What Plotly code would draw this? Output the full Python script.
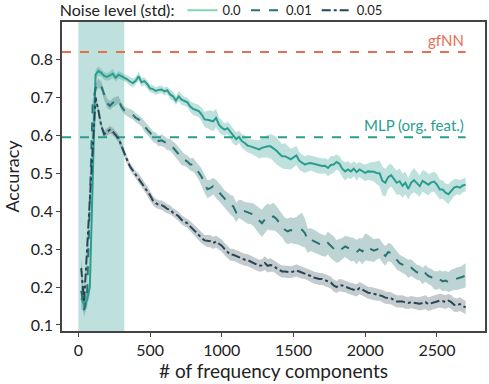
import numpy as np
import plotly.graph_objects as go

# %%============== Data ==============================
n_freq = np.arange(20, 2701, 20)  # number of frequency components

noise_levels = ["0.0", "0.01", "0.05"]

acc_00 = [0.17, 0.155, 0.165, 0.20, 0.48, 0.76, 0.77, 0.765, 0.757, 0.754,
          0.758, 0.763, 0.752, 0.760, 0.756, 0.753, 0.748, 0.742, 0.738, 0.744,
          0.756, 0.740, 0.743, 0.735, 0.724, 0.722, 0.717, 0.720, 0.721, 0.716,
          0.719, 0.708, 0.703, 0.692, 0.703, 0.694, 0.690, 0.687, 0.676, 0.670,
          0.667, 0.664, 0.655, 0.642, 0.641, 0.640, 0.637, 0.646, 0.628, 0.620,
          0.615, 0.619, 0.610, 0.598, 0.590, 0.596, 0.585, 0.580, 0.573, 0.571,
          0.569, 0.566, 0.563, 0.567, 0.570, 0.571, 0.571, 0.566, 0.560, 0.552,
          0.545, 0.545, 0.541, 0.537, 0.542, 0.547, 0.533, 0.527, 0.523, 0.526,
          0.527, 0.525, 0.523, 0.521, 0.519, 0.520, 0.514, 0.522, 0.523, 0.530,
          0.525, 0.512, 0.505, 0.510, 0.505, 0.512, 0.503, 0.510, 0.505, 0.501,
          0.505, 0.505, 0.504, 0.501, 0.500, 0.480, 0.475, 0.490, 0.495, 0.485,
          0.475, 0.479, 0.467, 0.475, 0.459, 0.475, 0.482, 0.474, 0.466, 0.480,
          0.476, 0.470, 0.476, 0.478, 0.470, 0.457, 0.457, 0.449, 0.445, 0.455,
          0.462, 0.465, 0.462, 0.468, 0.470]

acc_001 = [0.19, 0.14, 0.17, 0.40, 0.68, 0.725, 0.738, 0.730, 0.705, 0.685,
           0.678, 0.686, 0.690, 0.694, 0.676, 0.666, 0.662, 0.658, 0.654, 0.646,
           0.642, 0.635, 0.624, 0.615, 0.607, 0.597, 0.593, 0.585, 0.587, 0.583,
           0.576, 0.576, 0.568, 0.560, 0.550, 0.540, 0.535, 0.531, 0.523, 0.523,
           0.513, 0.503, 0.490, 0.472, 0.458, 0.461, 0.466, 0.459, 0.451, 0.443,
           0.433, 0.424, 0.417, 0.413, 0.397, 0.406, 0.403, 0.398, 0.395, 0.394,
           0.391, 0.383, 0.375, 0.368, 0.378, 0.386, 0.383, 0.386, 0.380, 0.371,
           0.363, 0.351, 0.347, 0.350, 0.348, 0.349, 0.351, 0.351, 0.342, 0.322,
           0.325, 0.322, 0.318, 0.314, 0.310, 0.308, 0.316, 0.308, 0.302, 0.294,
           0.296, 0.301, 0.307, 0.303, 0.299, 0.299, 0.292, 0.299, 0.294, 0.306,
           0.304, 0.300, 0.296, 0.300, 0.302, 0.290, 0.282, 0.292, 0.290, 0.280,
           0.270, 0.263, 0.259, 0.255, 0.248, 0.251, 0.245, 0.239, 0.237, 0.229,
           0.236, 0.229, 0.226, 0.218, 0.217, 0.220, 0.215, 0.217, 0.213, 0.218,
           0.220, 0.222, 0.223, 0.227, 0.231]

acc_005 = [0.25, 0.16, 0.295, 0.43, 0.565, 0.700, 0.665, 0.625, 0.603, 0.608,
           0.615, 0.610, 0.600, 0.592, 0.573, 0.552, 0.535, 0.518, 0.507, 0.496,
           0.488, 0.477, 0.465, 0.453, 0.442, 0.428, 0.421, 0.417, 0.416, 0.412,
           0.406, 0.404, 0.396, 0.392, 0.386, 0.377, 0.372, 0.368, 0.360, 0.352,
           0.345, 0.337, 0.329, 0.323, 0.321, 0.321, 0.316, 0.320, 0.314, 0.309,
           0.300, 0.292, 0.285, 0.285, 0.282, 0.278, 0.274, 0.272, 0.271, 0.268,
           0.263, 0.260, 0.256, 0.257, 0.263, 0.256, 0.258, 0.256, 0.250, 0.245,
           0.241, 0.241, 0.239, 0.239, 0.241, 0.244, 0.241, 0.238, 0.237, 0.233,
           0.229, 0.225, 0.222, 0.221, 0.221, 0.219, 0.215, 0.212, 0.204, 0.200,
           0.205, 0.204, 0.202, 0.198, 0.195, 0.193, 0.191, 0.197, 0.193, 0.190,
           0.185, 0.184, 0.182, 0.180, 0.180, 0.176, 0.172, 0.171, 0.170, 0.166,
           0.162, 0.162, 0.162, 0.159, 0.158, 0.160, 0.158, 0.157, 0.156, 0.158,
           0.160, 0.155, 0.158, 0.160, 0.162, 0.164, 0.163, 0.160, 0.164, 0.160,
           0.153, 0.152, 0.155, 0.150, 0.146]

std_00 = [0.03, 0.02, 0.02, 0.02, 0.02, 0.012, 0.012, 0.01, 0.01, 0.01,
          0.012, 0.012, 0.01, 0.01, 0.01, 0.01, 0.01, 0.012, 0.012, 0.01,
          0.012, 0.012, 0.01, 0.01, 0.01, 0.01, 0.01, 0.01, 0.01, 0.01,
          0.01, 0.012, 0.012, 0.012, 0.014, 0.014, 0.012, 0.012, 0.014, 0.016,
          0.016, 0.016, 0.018, 0.02, 0.024, 0.026, 0.026, 0.024, 0.02, 0.018,
          0.016, 0.016, 0.018, 0.02, 0.018, 0.016, 0.018, 0.02, 0.018, 0.018,
          0.02, 0.022, 0.024, 0.026, 0.028, 0.03, 0.032, 0.034, 0.036, 0.034,
          0.032, 0.034, 0.03, 0.028, 0.026, 0.025, 0.024, 0.022, 0.022, 0.022,
          0.02, 0.02, 0.022, 0.022, 0.02, 0.02, 0.022, 0.024, 0.022, 0.02,
          0.02, 0.022, 0.024, 0.022, 0.02, 0.02, 0.022, 0.02, 0.02, 0.022,
          0.022, 0.024, 0.026, 0.03, 0.034, 0.038, 0.036, 0.032, 0.03, 0.03,
          0.032, 0.034, 0.032, 0.03, 0.028, 0.03, 0.032, 0.03, 0.028, 0.028,
          0.03, 0.028, 0.026, 0.026, 0.028, 0.026, 0.024, 0.024, 0.026, 0.024,
          0.022, 0.02, 0.02, 0.018, 0.018]

std_001 = [0.02, 0.02, 0.02, 0.02, 0.015, 0.012, 0.012, 0.012, 0.012, 0.012,
           0.012, 0.012, 0.012, 0.01, 0.01, 0.01, 0.01, 0.012, 0.012, 0.012,
           0.012, 0.012, 0.014, 0.014, 0.014, 0.014, 0.014, 0.014, 0.015, 0.015,
           0.015, 0.016, 0.016, 0.018, 0.018, 0.018, 0.016, 0.016, 0.016, 0.018,
           0.018, 0.02, 0.022, 0.024, 0.024, 0.022, 0.022, 0.024, 0.024, 0.022,
           0.022, 0.024, 0.026, 0.028, 0.026, 0.024, 0.026, 0.026, 0.028, 0.028,
           0.03, 0.032, 0.034, 0.036, 0.036, 0.034, 0.034, 0.036, 0.034, 0.032,
           0.032, 0.032, 0.034, 0.034, 0.034, 0.036, 0.04, 0.045, 0.038, 0.032,
           0.03, 0.03, 0.03, 0.028, 0.028, 0.028, 0.03, 0.032, 0.032, 0.03,
           0.03, 0.028, 0.028, 0.03, 0.032, 0.03, 0.032, 0.03, 0.034, 0.036,
           0.034, 0.032, 0.03, 0.028, 0.026, 0.026, 0.026, 0.024, 0.024, 0.024,
           0.024, 0.022, 0.022, 0.022, 0.024, 0.022, 0.022, 0.02, 0.02, 0.022,
           0.022, 0.022, 0.022, 0.024, 0.024, 0.024, 0.026, 0.026, 0.026, 0.028,
           0.028, 0.03, 0.03, 0.03, 0.032]

std_005 = [0.03, 0.025, 0.02, 0.015, 0.012, 0.01, 0.01, 0.01, 0.01, 0.01,
           0.01, 0.01, 0.01, 0.01, 0.01, 0.01, 0.01, 0.01, 0.01, 0.01,
           0.012, 0.012, 0.012, 0.012, 0.012, 0.012, 0.012, 0.012, 0.012, 0.012,
           0.012, 0.012, 0.012, 0.012, 0.012, 0.012, 0.012, 0.012, 0.014, 0.014,
           0.014, 0.014, 0.014, 0.014, 0.016, 0.016, 0.016, 0.016, 0.016, 0.016,
           0.016, 0.016, 0.016, 0.016, 0.016, 0.016, 0.016, 0.016, 0.016, 0.016,
           0.016, 0.016, 0.016, 0.016, 0.018, 0.018, 0.018, 0.016, 0.016, 0.016,
           0.016, 0.016, 0.016, 0.016, 0.016, 0.016, 0.016, 0.016, 0.016, 0.016,
           0.016, 0.016, 0.016, 0.016, 0.016, 0.016, 0.016, 0.016, 0.016, 0.016,
           0.016, 0.016, 0.016, 0.016, 0.016, 0.016, 0.016, 0.016, 0.016, 0.016,
           0.016, 0.016, 0.016, 0.016, 0.016, 0.016, 0.016, 0.016, 0.016, 0.016,
           0.016, 0.016, 0.016, 0.016, 0.016, 0.016, 0.016, 0.016, 0.018, 0.018,
           0.018, 0.018, 0.018, 0.018, 0.018, 0.018, 0.018, 0.018, 0.018, 0.018,
           0.018, 0.018, 0.018, 0.018, 0.018]

gfnn_acc = 0.82
mlp_acc = 0.595
span_lo, span_hi = 0, 320

# %%============== Styling =========
line_colors = ["#2a9d8f", "#287271", "#264653"]
legend_colors = ["#86d3ae", "#287271", "#264653"]
band_colors = ["rgba(42,157,143,0.3)", "rgba(40,114,113,0.3)", "rgba(38,70,83,0.28)"]
dashes = ["solid", "dash", "dashdot"]
x_range = [-114, 2835]
y_range = [0.084, 0.899]
font = "Lato"

fig = go.Figure()

# shaded region of low frequencies
fig.add_vrect(x0=span_lo, x1=span_hi, fillcolor="rgba(42,157,143,0.3)",
              line_width=0, layer="below")

series = [(acc_00, std_00), (acc_001, std_001), (acc_005, std_005)]
for i, (acc, std) in enumerate(series):
    acc = np.array(acc)
    std = np.array(std)
    xx = np.concatenate([n_freq, n_freq[::-1]])
    yy = np.concatenate([acc + std, (acc - std)[::-1]])
    fig.add_trace(go.Scatter(x=xx, y=yy, fill="toself", fillcolor=band_colors[i],
                             line=dict(width=0), mode="lines", hoverinfo="skip",
                             showlegend=False))

# baselines
fig.add_trace(go.Scatter(x=[x_range[0], n_freq[-1]], y=[gfnn_acc, gfnn_acc], mode="lines",
                         line=dict(color="#e76f51", width=2, dash="dash"), showlegend=False))
fig.add_trace(go.Scatter(x=[x_range[0], n_freq[-1]], y=[mlp_acc, mlp_acc], mode="lines",
                         line=dict(color="#2a9d8f", width=2, dash="dash"), showlegend=False))

for i, (acc, std) in enumerate(series):
    fig.add_trace(go.Scatter(x=n_freq, y=acc, mode="lines",
                             line=dict(color=line_colors[i], width=2, dash=dashes[i]),
                             showlegend=False))

# legend entries
for i, lab in enumerate(noise_levels):
    fig.add_trace(go.Scatter(x=[None], y=[None], mode="lines", name=lab,
                             line=dict(color=legend_colors[i], width=2, dash=dashes[i])))

fig.add_annotation(x=n_freq[-1], y=gfnn_acc, text="gfNN", showarrow=False,
                   xanchor="right", yanchor="bottom", yshift=1,
                   font=dict(color="#e76f51", size=15, family=font))
fig.add_annotation(x=n_freq[-1], y=mlp_acc, text="MLP (org. feat.)", showarrow=False,
                   xanchor="right", yanchor="bottom", yshift=1,
                   font=dict(color="#2a9d8f", size=15, family=font))

fig.update_layout(
    width=489, height=384,
    margin=dict(l=62, r=4, t=22, b=53, autoexpand=False),
    plot_bgcolor="white", paper_bgcolor="white",
    font=dict(family=font, size=16, color="#222"),
    legend=dict(orientation="h", x=-0.01, xanchor="left", y=1.036, yanchor="middle",
                title=dict(text="Noise level (std):", side="left"),
                font=dict(size=13), itemwidth=30, bgcolor="rgba(0,0,0,0)"),
    xaxis=dict(range=x_range, tickvals=[0, 500, 1000, 1500, 2000, 2500],
               title=dict(text="# of frequency components", font=dict(size=19), standoff=4),
               showgrid=False, zeroline=False, showline=True, mirror=True,
               linecolor="#444", linewidth=1.5, ticks="outside", ticklen=4, tickcolor="#444"),
    yaxis=dict(range=y_range, dtick=0.1, tick0=0.1,
               title=dict(text="Accuracy", font=dict(size=18), standoff=6),
               showgrid=False, zeroline=False, showline=True, mirror=True,
               linecolor="#444", linewidth=1.5, ticks="outside", ticklen=4, tickcolor="#444"),
)

# page has a default body margin; drop it so the figure sits at the window origin
fig.write_html("out.html", config={"displayModeBar": False},
               post_script="document.body.style.margin='0';")
